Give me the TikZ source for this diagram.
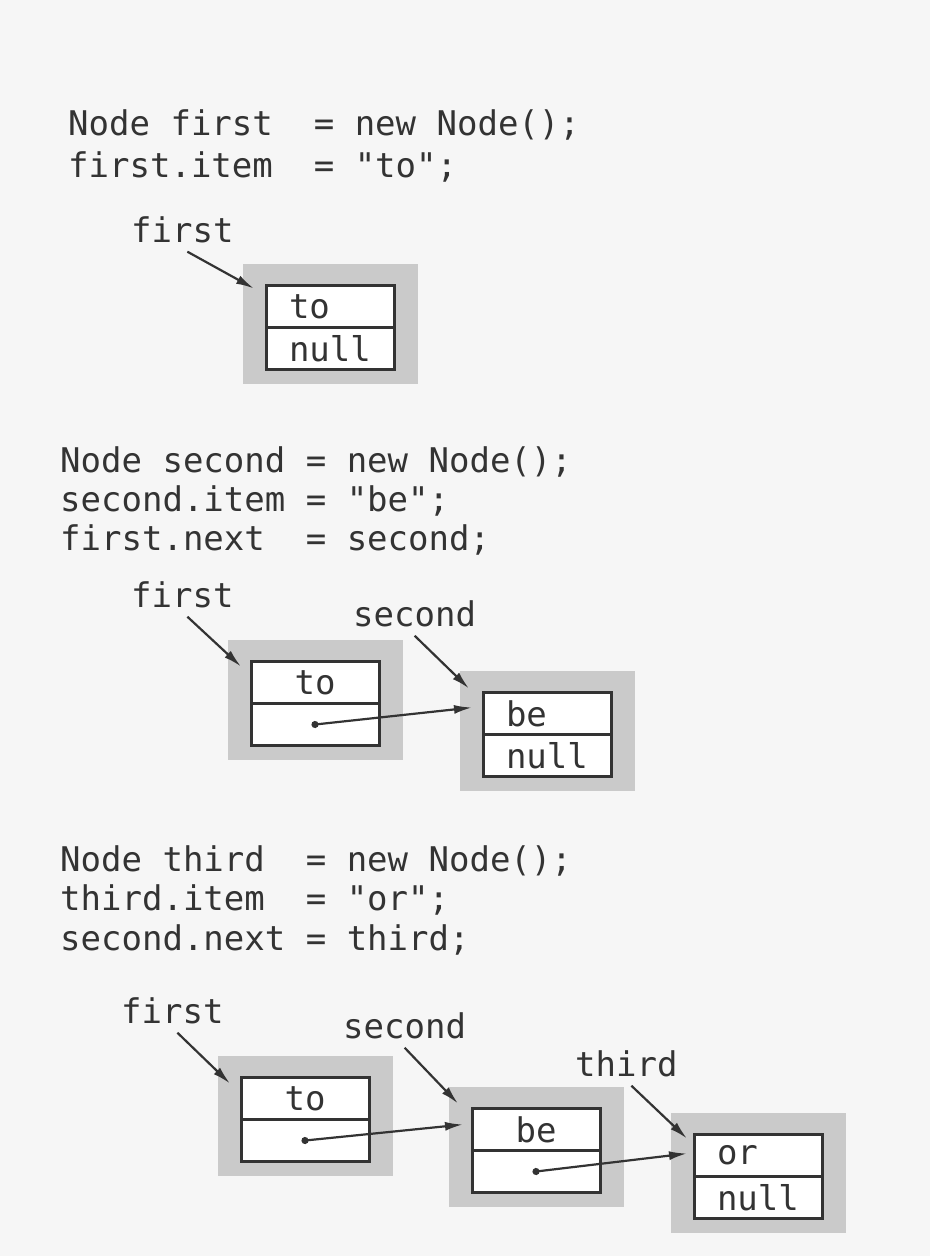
\documentclass[tikz,border=0pt]{standalone}
\usepackage{fontspec}
\usepackage{tikz}
\usetikzlibrary{positioning,arrows.meta}
\newfontfamily\codefont{DejaVu Sans Mono}
\definecolor{PageGray}{HTML}{F6F6F6}
\definecolor{ShadeGray}{HTML}{CACACA}
\definecolor{InkGray}{HTML}{333333}

\begin{document}
\begin{tikzpicture}[
  x=1pt,y=-1pt,
  code/.style={anchor=base west,inner sep=0pt,text=InkGray,font=\codefont\fontsize{34}{40}\selectfont},
  varname/.style={code},
  shadebox/.style={fill=ShadeGray,minimum width=175pt,minimum height=120pt,inner sep=0pt},
  cell/.style={draw=InkGray,line width=3pt,fill=white,minimum width=128pt,minimum height=42pt,inner sep=0pt,outer sep=0pt,text=InkGray,font=\codefont\fontsize{34}{40}\selectfont},
  padded/.style={text width=82pt,align=left},
  pointer/.style={-{Latex[length=18pt,width=9pt]},line width=2.2pt,draw=InkGray},
  link/.style={{Circle[length=7pt]}-{Latex[length=18pt,width=9pt]},shorten <=-3.5pt,line width=2.2pt,draw=InkGray}
]
\fill[PageGray] (0,0) rectangle (930,1256);
\useasboundingbox (0,0) rectangle (930,1256);

% first node
\node[code] (newfirst) at (68,135) {Node first~~= new Node();};
\node[code] (setfirst) at (68,177) {first.item~~= "to";};
\node[varname] (first1) at (131,242) {first};
\node[shadebox] (sh1) at (330,324) {};
\node[cell,padded] (to1) at ([yshift=17.5pt]sh1.center) {to};
\node[cell,padded,below=0pt of to1] (null1) {null};
\draw[pointer] ([xshift=5pt,yshift=-9pt]first1.south) -- ([xshift=-12pt,yshift=-3pt]to1.north west);

% second node
\node[code] (newsecond) at (60,472) {Node second = new Node();};
\node[code] (setsecond) at (60,511) {second.item = "be";};
\node[code] (linkfirst) at (60,550) {first.next~~= second;};
\node[varname] (first2) at (131,607) {first};
\node[varname] (second2) at (353,626) {second};
\node[shadebox] (sh2a) at (315,700) {};
\node[shadebox] (sh2b) at (547,731) {};
\node[cell] (to2) at ([yshift=17.5pt]sh2a.center) {to};
\node[cell,below=0pt of to2] (next2) {};
\node[cell,padded] (be2) at ([yshift=17.5pt]sh2b.center) {be};
\node[cell,padded,below=0pt of be2] (null2) {null};
\draw[pointer] ([xshift=5pt,yshift=-9pt]first2.south) -- ([xshift=-10pt,yshift=-5pt]to2.north west);
\draw[pointer] ([yshift=-9pt]second2.south) -- ([xshift=-14pt,yshift=4pt]be2.north west);
\draw[link] (next2.center) -- ([xshift=-11pt,yshift=6pt]be2.west);

% third node
\node[code] (newthird) at (60,871) {Node third~~= new Node();};
\node[code] (setthird) at (60,910) {third.item~~= "or";};
\node[code] (linksecond) at (60,950) {second.next = third;};
\node[varname] (first3) at (121,1023) {first};
\node[varname] (second3) at (343,1038) {second};
\node[varname] (third3) at (575,1076) {third};
\node[shadebox] (sh3a) at (305,1116) {};
\node[shadebox] (sh3b) at (536,1147) {};
\node[shadebox] (sh3c) at (758,1173) {};
\node[cell] (to3) at ([yshift=17.5pt]sh3a.center) {to};
\node[cell,below=0pt of to3] (next3a) {};
\node[cell] (be3) at ([yshift=17.5pt]sh3b.center) {be};
\node[cell,below=0pt of be3] (next3b) {};
\node[cell,padded] (or3) at ([yshift=17.5pt]sh3c.center) {or};
\node[cell,padded,below=0pt of or3] (null3) {null};
\draw[pointer] ([xshift=5pt,yshift=-9pt]first3.south) -- ([xshift=-11pt,yshift=-6pt]to3.north west);
\draw[pointer] ([yshift=-9pt]second3.south) -- ([xshift=-14pt,yshift=5pt]be3.north west);
\draw[pointer] ([xshift=5pt,yshift=-9pt]third3.south) -- ([xshift=-7pt,yshift=-4pt]or3.north west);
\draw[link] (next3a.center) -- ([xshift=-9pt,yshift=5pt]be3.west);
\draw[link] (next3b.center) -- ([xshift=-7pt,yshift=2pt]or3.west);
\end{tikzpicture}
\end{document}
